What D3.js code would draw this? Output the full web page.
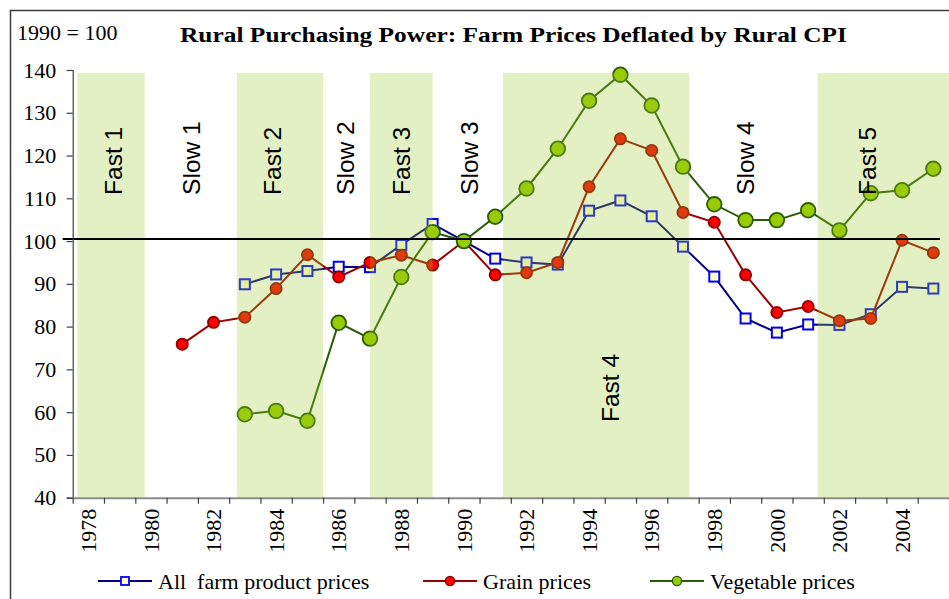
<!DOCTYPE html>
<html>
<head>
<meta charset="utf-8">
<script src="https://cdn.jsdelivr.net/npm/d3@7"></script>
<style>
  html, body { margin: 0; padding: 0; background: #fff; }
  svg { display: block; }
  .serif { font-family: "Liberation Serif", "Times New Roman", serif; }
  .sans { font-family: "Liberation Sans", Arial, sans-serif; }
</style>
</head>
<body>
<div id="chart"></div>
<script>
// years on the category axis
const years = [1978, 1979, 1980, 1981, 1982, 1983, 1984, 1985, 1986, 1987,
  1988, 1989, 1990, 1991, 1992, 1993, 1994, 1995, 1996, 1997,
  1998, 1999, 2000, 2001, 2002, 2003, 2004, 2005];

// index, 1990 = 100
const allFarm = [null, null, null, null, null, 89.9, 92.2, 93.0, 94.0, 93.9,
  99.1, 104.0, 100, 95.9, 95.0, 94.5, 107.1, 109.5, 105.8, 98.7,
  91.7, 81.9, 78.6, 80.5, 80.4, 82.9, 89.3, 88.9];
const grain = [null, null, null, 75.9, 81.0, 82.2, 88.9, 96.8, 91.6, 95.0,
  96.7, 94.4, 100, 92.1, 92.6, 95.0, 112.7, 123.9, 121.2, 106.7,
  104.4, 92.1, 83.3, 84.7, 81.4, 81.9, 100.2, 97.3];
const vegetable = [null, null, null, null, null, 59.5, 60.3, 58.0, 80.9, 77.2,
  91.6, 102.1, 100, 105.7, 112.3, 121.6, 132.8, 138.9, 131.7, 117.4,
  108.6, 104.9, 104.9, 107.2, 102.5, 111.2, 111.9, 116.9];

const yTicks = [40, 50, 60, 70, 80, 90, 100, 110, 120, 130, 140];
const xLabelYears = [1978, 1980, 1982, 1984, 1986, 1988, 1990, 1992, 1994, 1996, 1998, 2000, 2002, 2004];

// fast growth periods (shaded), in year units
const fastStart = [1977.65, 1982.75, 1987.0, 1991.25, 2001.3];
const fastEnd = [1979.8, 1985.5, 1989.0, 1997.2, 2006.0];

// period labels: text, year it sits on, level where the text starts
const periodNames = ["Fast 1", "Slow 1", "Fast 2", "Slow 2", "Fast 3", "Slow 3", "Fast 4", "Slow 4", "Fast 5"];
const periodYear = [1978.8, 1981.3, 1983.86, 1986.22, 1988.0, 1990.16, 1994.67, 1998.98, 2002.88];
const periodLevel = [110.8, 110.8, 110.8, 110.8, 110.8, 110.8, 57.7, 110.8, 110.8];

const seriesNames = ["All  farm product prices", "Grain prices", "Vegetable prices"];

const W = 949, H = 599;

const svg = d3.select("#chart").append("svg")
  .attr("width", W)
  .attr("height", H);

// outer frame (right and bottom edges fall outside the picture)
svg.append("rect")
  .attr("x", 10.5).attr("y", 10.5)
  .attr("width", 1000).attr("height", 1000)
  .attr("fill", "none")
  .attr("stroke", "#3a3a3a")
  .attr("stroke-width", 1.5);

const x = d3.scaleLinear()
  .domain([years[0] - 0.5, years[years.length - 1] + 0.5])
  .range([72.7, 949]);
const y = d3.scaleLinear().domain([40, 140]).range([497.7, 70]);

const series = [
  { name: seriesNames[0], values: allFarm, line: "#000080", shape: "square", fill: "#ffffcc", stroke: "#0000ff" },
  { name: seriesNames[1], values: grain, line: "#990000", shape: "circle", r: 5.6, fill: "#ff0000", stroke: "#8b0000" },
  { name: seriesNames[2], values: vegetable, line: "#285c06", shape: "circle", r: 7.3, fill: "#99cc00", stroke: "#285c06" }
];

const line = d3.line()
  .defined(d => d.v != null)
  .x(d => x(d.year))
  .y(d => y(d.v));

const plot = svg.append("g").attr("class", "series");

series.forEach(s => {
  const pts = years.map((yr, i) => ({ year: yr, v: s.values[i] }));
  plot.append("path")
    .datum(pts)
    .attr("d", line)
    .attr("fill", "none")
    .attr("stroke", s.line)
    .attr("stroke-width", 2);

  const valid = pts.filter(d => d.v != null);
  if (s.shape === "square") {
    plot.append("g").selectAll("rect")
      .data(valid)
      .join("rect")
      .attr("x", d => x(d.year) - 5)
      .attr("y", d => y(d.v) - 5)
      .attr("width", 10).attr("height", 10)
      .attr("fill", s.fill)
      .attr("stroke", s.stroke)
      .attr("stroke-width", 2);
  } else {
    plot.append("g").selectAll("circle")
      .data(valid)
      .join("circle")
      .attr("cx", d => x(d.year))
      .attr("cy", d => y(d.v))
      .attr("r", s.r)
      .attr("fill", s.fill)
      .attr("stroke", s.stroke)
      .attr("stroke-width", 1.8);
  }
});

// translucent green bands sit over the lines
svg.append("g").selectAll("rect")
  .data(fastStart.map((s, i) => [s, fastEnd[i]]))
  .join("rect")
  .attr("x", d => x(d[0]))
  .attr("y", y(140) + 3)
  .attr("width", d => x(d[1]) - x(d[0]))
  .attr("height", y(40) - y(140) - 3)
  .attr("fill", "rgb(157,203,45)")
  .attr("fill-opacity", 0.286);

// reference line at 100
svg.append("line")
  .attr("x1", x.range()[0] - 10)
  .attr("x2", 940)
  .attr("y1", y(100.5))
  .attr("y2", y(100.5))
  .attr("stroke", "#000")
  .attr("stroke-width", 2);

// y axis
const yAxis = svg.append("g")
  .attr("transform", `translate(${x.range()[0]},0)`)
  .call(d3.axisLeft(y).tickValues(yTicks).tickSize(6).tickPadding(10.5));
yAxis.attr("font-family", null);
yAxis.select(".domain").attr("stroke", "#404040").attr("stroke-width", 1.2);
yAxis.selectAll(".tick line").attr("stroke", "#404040").attr("stroke-width", 1.2);
yAxis.selectAll(".tick text")
  .attr("class", "serif")
  .attr("font-size", 22)
  .attr("fill", "#000");

// x axis: ticks at category boundaries
const bounds = years.map(yr => yr - 0.5).concat([years[years.length - 1] + 0.5]);
const xAxis = svg.append("g")
  .attr("transform", `translate(0,${y(40)})`)
  .call(d3.axisBottom(x).tickValues(bounds).tickFormat("").tickSize(6).tickSizeOuter(0));
xAxis.select(".domain").attr("stroke", "#8a8a8a").attr("stroke-width", 2);
xAxis.selectAll(".tick line").attr("stroke", "#404040").attr("stroke-width", 1.2);

svg.append("g").selectAll("text")
  .data(xLabelYears)
  .join("text")
  .attr("class", "serif")
  .attr("transform", d => `translate(${x(d)},${y(40) + 11}) rotate(-90)`)
  .attr("dy", "0.35em")
  .attr("text-anchor", "end")
  .attr("font-size", 22)
  .attr("fill", "#000")
  .text(d => d);

// period labels
svg.append("g").selectAll("text")
  .data(periodNames.map((n, i) => ({ name: n, year: periodYear[i], level: periodLevel[i] })))
  .join("text")
  .attr("class", "sans")
  .attr("transform", d => `translate(${x(d.year)},${y(d.level)}) rotate(-90)`)
  .attr("dy", "0.36em")
  .attr("text-anchor", "start")
  .attr("font-size", 24.5)
  .attr("fill", "#000")
  .text(d => d.name);

// headings
svg.append("text")
  .attr("class", "serif")
  .attr("x", 17).attr("y", 40)
  .attr("font-size", 22)
  .text("1990 = 100");

svg.append("text")
  .attr("class", "serif")
  .attr("x", 180).attr("y", 42)
  .attr("font-size", 22)
  .attr("font-weight", "bold")
  .attr("textLength", 667)
  .attr("lengthAdjust", "spacingAndGlyphs")
  .text("Rural Purchasing Power: Farm Prices Deflated by Rural CPI");

// legend
const legendX = [98, 423, 650];
const legendY = 581;
const legend = svg.append("g");
series.forEach((s, i) => {
  const g = legend.append("g").attr("transform", `translate(${legendX[i]},${legendY})`);
  g.append("line")
    .attr("x1", 0).attr("x2", 54)
    .attr("stroke", s.line)
    .attr("stroke-width", 2);
  if (s.shape === "square") {
    g.append("rect")
      .attr("x", 23).attr("y", -4).attr("width", 8).attr("height", 8)
      .attr("fill", s.fill).attr("stroke", s.stroke).attr("stroke-width", 1.8);
  } else {
    g.append("circle")
      .attr("cx", 27).attr("r", 4.6)
      .attr("fill", s.fill).attr("stroke", s.stroke).attr("stroke-width", 1.4);
  }
  g.append("text")
    .attr("class", "serif")
    .attr("x", 60)
    .attr("dy", "0.35em")
    .attr("font-size", 22)
    .style("white-space", "pre")
    .text(s.name);
});
</script>
</body>
</html>
